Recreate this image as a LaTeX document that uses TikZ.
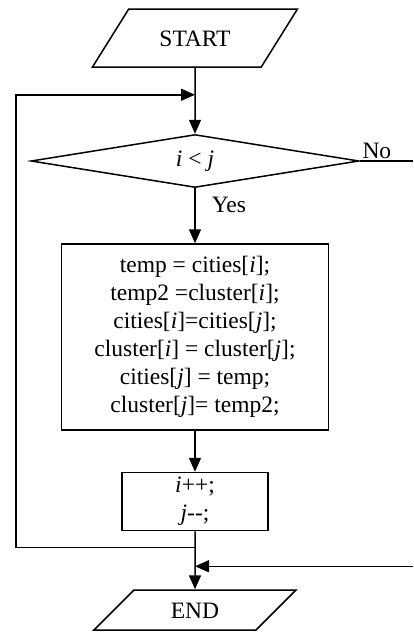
\documentclass[tikz,border=0pt]{standalone}
\usepackage{fontspec}
\setmainfont{Liberation Serif}
\usepackage{tikz}
\usetikzlibrary{calc, positioning, arrows.meta, shapes.geometric}

\begin{document}
\begin{tikzpicture}[
    line width=1.5pt,
    font=\fontsize{23.5pt}{28pt}\selectfont,
    io/.style={trapezium, draw, trapezium stretches body=true, text height=16pt, text depth=0pt, inner xsep=0pt},
    decision/.style={diamond, draw, aspect=6, minimum width=328pt, minimum height=53pt, inner sep=0pt},
    process/.style={rectangle, draw, align=center},
    flow/.style={-{Triangle[length=14pt, width=12pt]}},
    label_style/.style={inner sep=2pt}
]

\useasboundingbox (0pt,0pt) rectangle (413pt,-635pt);
\coordinate (rim) at (413pt,0pt);

\node[io, trapezium left angle=58, trapezium right angle=122, inner ysep=21pt, minimum width=205pt] (start) at (195pt,-38pt) {START};
\node[decision, below=66pt of start] (dec) {\textit{i} < \textit{j}};
\node[process, below=55pt of dec, minimum width=267pt, minimum height=186pt] (work)
    {temp = cities[\textit{i}];\\ temp2 =cluster[\textit{i}];\\ cities[\textit{i}]=cities[\textit{j}];\\
     cluster[\textit{i}] = cluster[\textit{j}];\\ cities[\textit{j}] = temp;\\ cluster[\textit{j}]= temp2;};
\node[process, below=41pt of work, minimum width=146pt, minimum height=58pt, inner sep=2pt] (step)
    {\textit{i}++;\\ \textit{j}-{}-;};
\node[io, trapezium left angle=45, trapezium right angle=135, inner ysep=12pt, minimum width=202pt, below=58pt of step] (end) {END};

\coordinate (back) at ([yshift=-27pt]start.south);
\coordinate (merge) at ([yshift=-16pt]step.south);
\coordinate (exit) at ([yshift=-35pt]step.south);

\draw[flow] (start) -- (dec);
\draw[flow] (dec) -- (work) node[pos=0.3, right=14pt, label_style] {Yes};
\draw[flow] (work) -- (step);
\draw[flow] (step) -- (end);

\draw[flow] (merge) -- ([xshift=-179pt]merge) |- (back);
\draw (dec.east) -- (dec.east -| rim) node[pos=0, anchor=south west, label_style] {No};
\draw[flow] (exit -| rim) -- (exit);

\end{tikzpicture}
\end{document}
